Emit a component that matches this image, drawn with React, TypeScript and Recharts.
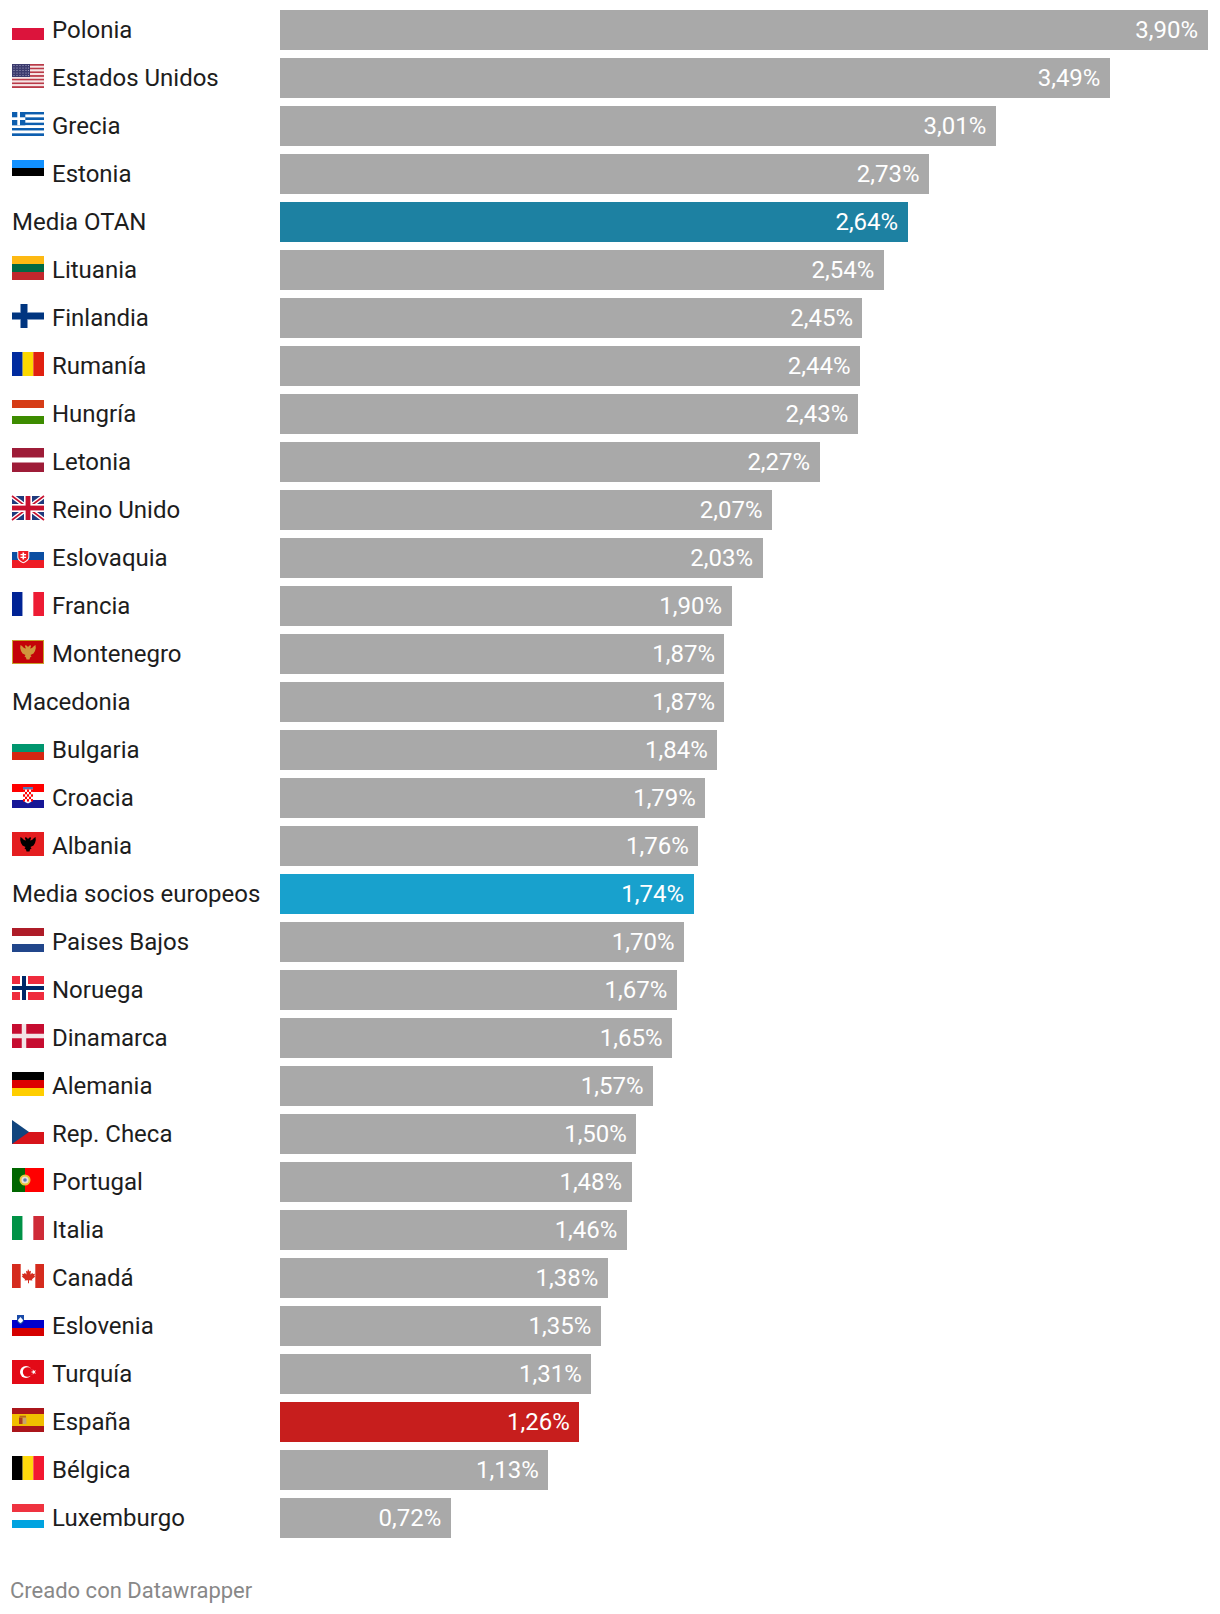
import { BarChart, Bar, Cell, LabelList, Rectangle, XAxis, YAxis } from "recharts";

const countries = [
  "Polonia", "Estados Unidos", "Grecia", "Estonia", "Media OTAN", "Lituania", "Finlandia", "Rumanía",
  "Hungría", "Letonia", "Reino Unido", "Eslovaquia", "Francia", "Montenegro", "Macedonia", "Bulgaria",
  "Croacia", "Albania", "Media socios europeos", "Paises Bajos", "Noruega", "Dinamarca", "Alemania",
  "Rep. Checa", "Portugal", "Italia", "Canadá", "Eslovenia", "Turquía", "España", "Bélgica", "Luxemburgo",
];

const spending = [
  3.9, 3.49, 3.01, 2.73, 2.64, 2.54, 2.45, 2.44, 2.43, 2.27, 2.07, 2.03, 1.9, 1.87, 1.87, 1.84,
  1.79, 1.76, 1.74, 1.7, 1.67, 1.65, 1.57, 1.5, 1.48, 1.46, 1.38, 1.35, 1.31, 1.26, 1.13, 0.72,
];

const highlights: Record<string, string> = {
  "Media OTAN": "#1d81a2",
  "Media socios europeos": "#18a1cd",
  "España": "#c71e1d",
};

const data = countries.map((country, i) => ({ country, value: spending[i] }));

const FONT = "Roboto, sans-serif";

const EAGLE =
  "M13.5 5L15.2 6L16 7.2L16.8 6L18.5 5L19 6.5L18 8.5L20 8L22 6L23.5 5L23.8 8L23 11L21.5 13.5L19.5 14.5L18.5 15L19.5 16.5L18 17.5L17.5 19.5L14.5 19.5L14 17.5L12.5 16.5L13.5 15L12.5 14.5L10.5 13.5L9 11L8.2 8L8.5 5L10 6L12 8L14 8.5L13 6.5Z";

function HStripes({ colors }: { colors: string[] }) {
  const h = 24 / colors.length;
  return (
    <>
      {colors.map((c, i) => (
        <rect key={i} x={0} y={i * h} width={32} height={h} fill={c} />
      ))}
    </>
  );
}

function VStripes({ colors }: { colors: string[] }) {
  const w = 32 / colors.length;
  return (
    <>
      {colors.map((c, i) => (
        <rect key={i} x={i * w} y={0} width={w} height={24} fill={c} />
      ))}
    </>
  );
}

function Cross({ bg, color, size, inner, innerSize }: { bg: string; color: string; size: number; inner?: string; innerSize?: number }) {
  const s = innerSize ?? 0;
  return (
    <>
      <rect width={32} height={24} fill={bg} />
      <rect x={12 - size / 2} y={0} width={size} height={24} fill={color} />
      <rect x={0} y={12 - size / 2} width={32} height={size} fill={color} />
      {inner && <rect x={12 - s / 2} y={0} width={s} height={24} fill={inner} />}
      {inner && <rect x={0} y={12 - s / 2} width={32} height={s} fill={inner} />}
    </>
  );
}

function usFlag() {
  const stripes = Array.from(Array(13).keys());
  const stars = [1.5, 4, 6.5, 9, 11.5];
  return (
    <>
      {stripes.map((i) => (
        <rect key={i} x={0} y={(i * 24) / 13} width={32} height={24 / 13} fill={i % 2 ? "#f6e6e6" : "#b93a48"} />
      ))}
      <rect width={18} height={13} fill="#3c3b6e" />
      {stars.map((y) =>
        [2, 5, 8, 11, 14, 16.5].map((x) => <circle key={`${x}-${y}`} cx={x} cy={y} r={0.6} fill="#b5b5cf" />)
      )}
    </>
  );
}

function greekFlag() {
  const stripes = Array.from(Array(9).keys());
  return (
    <>
      {stripes.map((i) => (
        <rect key={i} x={0} y={(i * 24) / 9} width={32} height={24 / 9} fill={i % 2 ? "#ffffff" : "#0d5eaf"} />
      ))}
      <rect width={13.3} height={13.3} fill="#0d5eaf" />
      <rect x={5.3} width={2.7} height={13.3} fill="#ffffff" />
      <rect y={5.3} width={13.3} height={2.7} fill="#ffffff" />
    </>
  );
}

function ukFlag() {
  return (
    <>
      <rect width={32} height={24} fill="#1f3a7d" />
      <path d="M0 0L32 24M32 0L0 24" stroke="#ffffff" strokeWidth={4.5} />
      <path d="M0 0L32 24M32 0L0 24" stroke="#c8102e" strokeWidth={1.6} />
      <rect x={12} width={8} height={24} fill="#ffffff" />
      <rect y={8} width={32} height={8} fill="#ffffff" />
      <rect x={13.6} width={4.8} height={24} fill="#c8102e" />
      <rect y={9.6} width={32} height={4.8} fill="#c8102e" />
    </>
  );
}

const flags: Record<string, () => any> = {
  Polonia: () => <HStripes colors={["#ffffff", "#dc143c"]} />,
  "Estados Unidos": usFlag,
  Grecia: greekFlag,
  Estonia: () => <HStripes colors={["#1291ff", "#000000", "#ffffff"]} />,
  Lituania: () => <HStripes colors={["#fdb913", "#006a44", "#c1272d"]} />,
  Finlandia: () => <Cross bg="#ffffff" color="#a9bcd8" size={8} inner="#003580" innerSize={6.5} />,
  "Rumanía": () => <VStripes colors={["#002b9f", "#fcd800", "#e0200f"]} />,
  "Hungría": () => <HStripes colors={["#d63c16", "#ffffff", "#3d8c00"]} />,
  Letonia: () => (
    <>
      <rect width={32} height={24} fill="#9e1c38" />
      <rect y={9.5} width={32} height={5} fill="#ffffff" />
    </>
  ),
  "Reino Unido": ukFlag,
  Eslovaquia: () => (
    <>
      <HStripes colors={["#ffffff", "#0b4ea2", "#ee1c25"]} />
      <path d="M5.300 6h12v7c0 3-3 5-6 6.300-3-1.300-6-3.300-6-6.300z" fill="#ffffff" />
      <path d="M6.300 7h10v6c0 2.500-2.500 4-5 5.200-2.500-1.200-5-2.700-5-5.200z" fill="#ee1c25" />
      <path d="M10.500 8.500h1.600v1.500h2v1.300h-2v1.500h2v1.300h-2v1.500h-1.600v-1.500h-2v-1.300h2v-1.500h-2v-1.300h2z" fill="#ffffff" />
    </>
  ),
  Francia: () => <VStripes colors={["#002395", "#ffffff", "#ed1c34"]} />,
  Montenegro: () => (
    <>
      <rect width={32} height={24} fill="#c8a02c" />
      <rect x={1} y={1} width={30} height={22} fill="#c40308" />
      <path d={EAGLE} fill="#d0963c" />
    </>
  ),
  Bulgaria: () => <HStripes colors={["#ffffff", "#00966e", "#d62612"]} />,
  Croacia: () => (
    <>
      <HStripes colors={["#ff0000", "#ffffff", "#171796"]} />
      <rect x={11} y={3} width={10} height={2.5} fill="#4e78b8" />
      <path d="M11 5.500h10v9c0 3-3 4-5 5-2-1-5-2-5-5z" fill="#ffffff" />
      {[0, 1, 2, 3, 4].map((r) =>
        [0, 1, 2, 3, 4].map((c) =>
          (r + c) % 2 === 0 ? <rect key={`${r}${c}`} x={11 + c * 2} y={5.5 + r * 2.4} width={2} height={2.4} fill="#ff0000" /> : null
        )
      )}
    </>
  ),
  Albania: () => (
    <>
      <rect width={32} height={24} fill="#e41e20" />
      <path d={EAGLE} fill="#000000" />
    </>
  ),
  "Paises Bajos": () => <HStripes colors={["#ae1c28", "#ffffff", "#21468b"]} />,
  Noruega: () => <Cross bg="#ef2b3d" color="#ffffff" size={8} inner="#002868" innerSize={4} />,
  Dinamarca: () => <Cross bg="#c60c30" color="#f3e4e6" size={4.5} />,
  Alemania: () => <HStripes colors={["#000000", "#dd0000", "#ffce00"]} />,
  "Rep. Checa": () => (
    <>
      <HStripes colors={["#ffffff", "#d7141a"]} />
      <path d="M0 0L17 12L0 24z" fill="#11457e" />
    </>
  ),
  Portugal: () => (
    <>
      <rect width={32} height={24} fill="#ff0000" />
      <rect width={13} height={24} fill="#006600" />
      <circle cx={13} cy={12} r={5.5} fill="#e8c63c" />
      <circle cx={13} cy={12} r={3.6} fill="#e8e0d8" />
      <circle cx={13} cy={12} r={1.8} fill="#5577b0" />
    </>
  ),
  Italia: () => <VStripes colors={["#009246", "#ffffff", "#ce2b37"]} />,
  "Canadá": () => (
    <>
      <rect width={32} height={24} fill="#d52b1e" />
      <rect x={8.7} width={14.6} height={24} fill="#ffffff" />
      <path d="M16 5l1.500 2.500 1.500-.7-.6 3.700 2-1.800.5 1.300 2.100-.3-.7 2.300 1 .6-3.300 2.700.4 1.300-3.400-.4v3h-1v-3l-3.400.4.4-1.300-3.300-2.700 1-.6-.7-2.300 2.100.3.5-1.300 2 1.800-.6-3.700 1.500.7z" fill="#d52b1e" />
    </>
  ),
  Eslovenia: () => (
    <>
      <HStripes colors={["#ffffff", "#0000cc", "#d50000"]} />
      <path d="M5 3h7v5c0 2.500-2 3.500-3.500 4.500C7 11.500 5 10.500 5 8z" fill="#1a4aa8" />
      <path d="M6 8l2.500-3 2.500 3c0 1.500-1.500 2.500-2.500 3-1-.5-2.500-1.500-2.500-3z" fill="#ffffff" />
    </>
  ),
  "Turquía": () => (
    <>
      <rect width={32} height={24} fill="#e30a17" />
      <circle cx={14} cy={12} r={6} fill="#ffffff" />
      <circle cx={15.6} cy={12} r={4.8} fill="#e30a17" />
      <polygon points="18.700,12 24.130,10.240 20.770,14.850 20.770,9.150 24.130,13.760" fill="#ffffff" />
    </>
  ),
  "España": () => (
    <>
      <rect width={32} height={24} fill="#aa151b" />
      <rect y={6} width={32} height={12} fill="#f1bf00" />
      <rect x={7} y={9.5} width={3.7} height={6.5} fill="#ad3a1e" />
      <rect x={10.7} y={9.5} width={3.7} height={6.5} fill="#c8a46a" />
      <rect x={7.5} y={7.7} width={6.5} height={1.8} fill="#b5651d" />
    </>
  ),
  "Bélgica": () => <VStripes colors={["#000000", "#ffd90c", "#f31830"]} />,
  Luxemburgo: () => <HStripes colors={["#ef3340", "#ffffff", "#00a3e0"]} />,
};

function CountryTick({ y, payload }: any) {
  const name: string = payload.value;
  const drawFlag = flags[name];
  return (
    <g>
      {drawFlag && <g transform={`translate(12, ${y - 14})`}>{drawFlag()}</g>}
      <text x={drawFlag ? 52 : 12} y={y - 1} dy="0.36em" fontFamily={FONT} fontSize={24} fill="#1d1d1d">
        {name}
      </text>
    </g>
  );
}

// the original snaps bars to whole pixels
const SnappedBar = (props: any) => <Rectangle {...props} width={Math.floor(props.width)} />;

function ValueLabel({ x, y, width, height, value }: any) {
  return (
    <text
      x={x + width - 10}
      y={y + height / 2 - 1}
      dy="0.36em"
      textAnchor="end"
      fontFamily={FONT}
      fontSize={24}
      fill="#ffffff"
    >
      {`${Number(value).toFixed(2).replace(".", ",")}%`}
    </text>
  );
}

export default function App() {
  return (
    <div style={{ position: "absolute", left: 0, top: 0, width: 1220, height: 1614, background: "#fff" }}>
      <BarChart
        width={1220}
        height={1542}
        data={data}
        layout="vertical"
        barCategoryGap={8}
        margin={{ top: 6, right: 12, bottom: 0, left: 0 }}
      >
        <XAxis type="number" domain={[0, 3.9]} hide />
        <YAxis
          type="category"
          dataKey="country"
          width={280}
          interval={0}
          axisLine={false}
          tickLine={false}
          tick={CountryTick}
        />
        <Bar dataKey="value" barSize={40} fill="#a9a9a9" shape={SnappedBar} isAnimationActive={false}>
          {data.map((d) => (
            <Cell key={d.country} fill={highlights[d.country] ?? "#a9a9a9"} />
          ))}
          <LabelList dataKey="value" content={ValueLabel} />
        </Bar>
      </BarChart>
      <div
        style={{
          position: "absolute",
          left: 10,
          top: 1575,
          fontFamily: FONT,
          fontSize: 22,
          lineHeight: "32px",
          color: "#888888",
        }}
      >
        Creado con Datawrapper
      </div>
    </div>
  );
}
